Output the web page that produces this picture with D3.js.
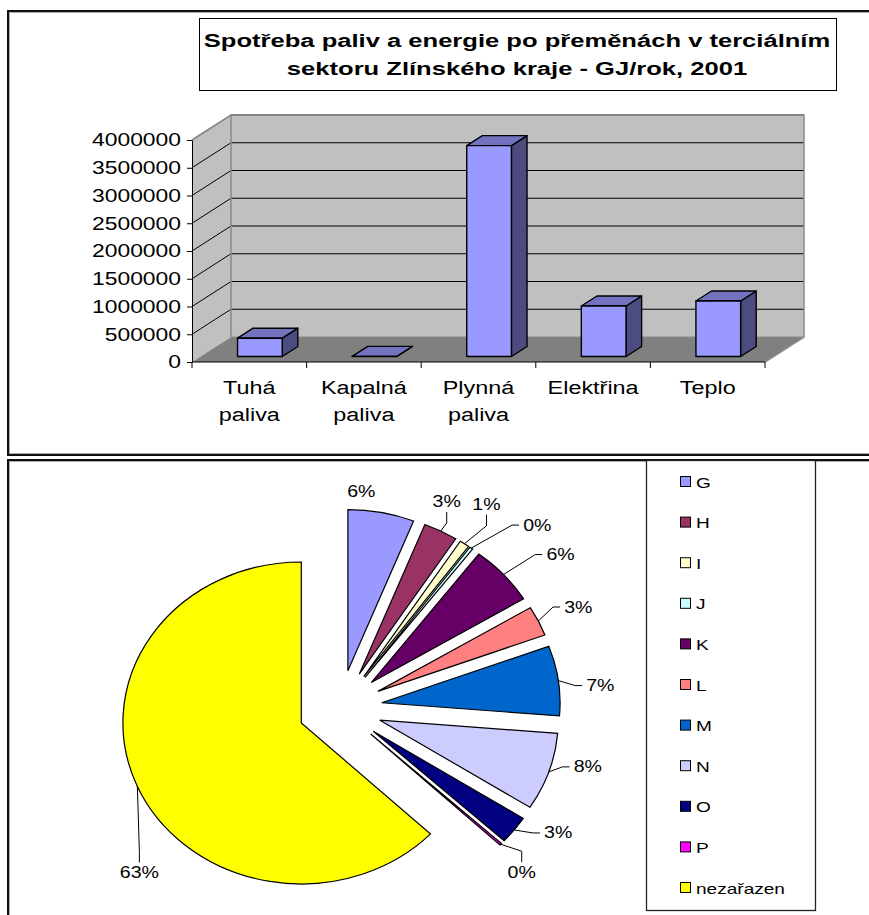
<!DOCTYPE html>
<html><head><meta charset="utf-8">
<script src="https://cdn.jsdelivr.net/npm/d3@7"></script>
<style>
html,body{margin:0;padding:0;background:#fff;}
svg{display:block;font-family:"Liberation Sans",Arial,sans-serif;}
</style></head><body>
<svg id="chart" width="869" height="915"></svg>
<script>
// Fuel and energy consumption in the tertiary sector, GJ per year (2001)
const titleLines = ["Spotřeba paliv a energie po přeměnách v terciálním", "sektoru Zlínského kraje - GJ/rok, 2001"];
const categories = ["Tuhá paliva", "Kapalná paliva", "Plynná paliva", "Elektřina", "Teplo"];
const consumption = [330000, 3000, 3800000, 910000, 1000000];
const valueTicks = [0, 500000, 1000000, 1500000, 2000000, 2500000, 3000000, 3500000, 4000000];

// Share of consumption by economic sector (%)
const sectors = ["G", "H", "I", "J", "K", "L", "M", "N", "O", "P", "nezařazen"];
const sectorShares = [6.0, 3.1, 0.9, 0.3, 6.0, 3.0, 7.0, 7.8, 2.8, 0.2, 62.9];
const sectorColors = ["#9999FF", "#993366", "#FFFFCC", "#CCFFFF", "#660066", "#FF8080",
                      "#0066CC", "#CCCCFF", "#000080", "#FF00FF", "#FFFF00"];

// label placement relative to each slice's rim point, and whether a leader line is drawn
const labelShift = [[-20,-21],[6,-29],[22,-39],[66,-23],[57,-20],[40,-14],[42,5],[39,-5],[44,3],[21,28],[2,86]];
const hasLeader = [false, true, true, true, true, true, true, true, true, true, true];

const WIDEN = 1.27;
const svg = d3.select("#chart");

function widen(sel, k) {
  sel.each(function () {
    const w = this.getComputedTextLength();
    d3.select(this).attr("textLength", w * k).attr("lengthAdjust", "spacingAndGlyphs");
  });
}

// ---- outer frames ----
function frame(x, y, w, h) {
  svg.append("rect").attr("x", x).attr("y", y).attr("width", w).attr("height", h)
    .attr("fill", "none").attr("stroke", "#111").attr("stroke-width", 2);
  svg.append("rect").attr("x", x + 1.5).attr("y", y + 1.5).attr("width", w - 3).attr("height", h - 3)
    .attr("fill", "none").attr("stroke", "#aaa").attr("stroke-width", 1);
}
frame(8, 11, 900, 444);
frame(8, 460, 900, 520);

// ---- title ----
svg.append("rect").attr("x", 199.5).attr("y", 18.5).attr("width", 637).attr("height", 72)
  .attr("fill", "#fff").attr("stroke", "#000").attr("stroke-width", 1);
svg.selectAll(".title").data(titleLines).join("text")
  .attr("class", "title")
  .attr("x", 517).attr("y", (d, i) => 41 + i * 28)
  .attr("text-anchor", "middle").attr("dominant-baseline", "central")
  .attr("font-size", 18).attr("font-weight", "bold").attr("fill", "#000")
  .text(d => d)
  .call(widen, 1.42);

// ---- 3D column chart ----
const X0 = 192, X1 = 765, DX = 39, DY = -25;
const y = d3.scaleLinear().domain([0, 4000000]).range([362, 140]);
const x = d3.scaleBand().domain(categories).range([X0, X1]).padding(0);
const yTop = y(4000000), yZero = y(0);

const bar3d = svg.append("g");
const pts = a => a.map(p => p.join(",")).join(" ");

// back wall
bar3d.append("polygon")
  .attr("points", pts([[X0 + DX, yZero + DY], [X1 + DX, yZero + DY], [X1 + DX, yTop + DY], [X0 + DX, yTop + DY]]))
  .attr("fill", "#C0C0C0");
// side wall
bar3d.append("polygon")
  .attr("points", pts([[X0, yZero], [X0 + DX, yZero + DY], [X0 + DX, yTop + DY], [X0, yTop]]))
  .attr("fill", "#C0C0C0");
// floor
bar3d.append("polygon")
  .attr("points", pts([[X0, yZero], [X1, yZero], [X1 + DX, yZero + DY], [X0 + DX, yZero + DY]]))
  .attr("fill", "#808080");

// gridlines on back and side walls
const grid = valueTicks.filter(t => t > 0);
bar3d.selectAll(".gback").data(grid).join("line")
  .attr("x1", X0 + DX).attr("x2", X1 + DX)
  .attr("y1", d => y(d) + DY).attr("y2", d => y(d) + DY)
  .attr("stroke", "#000").attr("stroke-width", 1);
bar3d.selectAll(".gside").data(grid).join("line")
  .attr("x1", X0).attr("x2", X0 + DX)
  .attr("y1", d => y(d)).attr("y2", d => y(d) + DY)
  .attr("stroke", "#000").attr("stroke-width", 1);

// wall outlines
bar3d.append("polyline")
  .attr("points", pts([[X0, yTop], [X0 + DX, yTop + DY], [X1 + DX, yTop + DY], [X1 + DX, yZero + DY], [X1, yZero]]))
  .attr("fill", "none").attr("stroke", "#8a8a8a").attr("stroke-width", 1.5);
bar3d.append("line")
  .attr("x1", X0 + DX).attr("x2", X0 + DX).attr("y1", yTop + DY).attr("y2", yZero + DY)
  .attr("stroke", "#8a8a8a").attr("stroke-width", 1.5);
bar3d.append("line")
  .attr("x1", X0 + DX).attr("x2", X1 + DX).attr("y1", yZero + DY).attr("y2", yZero + DY)
  .attr("stroke", "#8a8a8a").attr("stroke-width", 1);

// columns
const F1 = 0.22, F2 = 0.62, BW = x.bandwidth() * 0.39;
const cols = bar3d.selectAll(".col").data(categories.map((c, i) => ({ c, v: consumption[i] }))).join("g");
cols.each(function (d) {
  const g = d3.select(this);
  const cx = x(d.c) + x.bandwidth() / 2 + 2;
  const l = cx - BW / 2 + DX * F1, r = cx + BW / 2 + DX * F1;
  const b = yZero + DY * F1, t = y(d.v) + DY * F1;
  const ddx = DX * (F2 - F1), ddy = DY * (F2 - F1);
  const st = { stroke: "#000", "stroke-width": 1.4, "stroke-linejoin": "round" };
  const poly = (p, fill) => {
    const e = g.append("polygon").attr("points", pts(p)).attr("fill", fill);
    Object.entries(st).forEach(([k, v]) => e.attr(k, v));
  };
  poly([[r, b], [r + ddx, b + ddy], [r + ddx, t + ddy], [r, t]], "#4C4C80");
  poly([[l, t], [r, t], [r + ddx, t + ddy], [l + ddx, t + ddy]], "#7373BF");
  poly([[l, b], [r, b], [r, t], [l, t]], "#9999FF");
});

// value axis
const yAxis = svg.append("g").attr("transform", `translate(${X0},0)`)
  .call(d3.axisLeft(y).tickValues(valueTicks).tickFormat(d3.format("d")).tickSize(5).tickPadding(6).tickSizeOuter(0));
yAxis.select(".domain").attr("stroke", "#000");
yAxis.selectAll("line").attr("stroke", "#000");
yAxis.selectAll("text").attr("font-size", 18).attr("fill", "#000")
  .attr("font-family", "Liberation Sans, Arial, sans-serif").call(widen, WIDEN);

// category axis
svg.append("line").attr("x1", X0).attr("x2", X1).attr("y1", yZero).attr("y2", yZero)
  .attr("stroke", "#000").attr("stroke-width", 1);
svg.selectAll(".ctick").data(d3.range(categories.length + 1)).join("line")
  .attr("x1", i => X0 + i * x.bandwidth()).attr("x2", i => X0 + i * x.bandwidth())
  .attr("y1", yZero).attr("y2", yZero + 6).attr("stroke", "#000");
const catLabels = svg.selectAll(".clab").data(categories).join("text")
  .attr("text-anchor", "middle").attr("font-size", 18).attr("fill", "#000");
catLabels.each(function (d) {
  const t = d3.select(this);
  d.split(" ").forEach((w, i) => {
    t.append("tspan").attr("x", x(d) + x.bandwidth() / 2).attr("y", 394 + i * 27).text(w);
  });
});
catLabels.selectAll("tspan").call(widen, 1.3);

// ---- exploded pie ----
const C = [340, 708], R = 161, SX = 1.108, EXPLODE = 38;
const total = d3.sum(sectorShares);
const arcs = d3.pie().sort(null)(sectorShares);
const arc = d3.arc().innerRadius(0).outerRadius(R);
const pieG = svg.append("g").attr("transform", `translate(${C[0]},${C[1]}) scale(${SX},1)`);
arcs.forEach((a, i) => {
  const mid = (a.startAngle + a.endAngle) / 2;
  pieG.append("path")
    .attr("d", arc(a))
    .attr("transform", `translate(${Math.sin(mid) * EXPLODE},${-Math.cos(mid) * EXPLODE})`)
    .attr("fill", sectorColors[i]).attr("stroke", "#000").attr("stroke-width", 1.2)
    .attr("vector-effect", "non-scaling-stroke");
});

const pct = d3.format(".0%");
arcs.forEach((a, i) => {
  const mid = (a.startAngle + a.endAngle) / 2;
  const px = C[0] + SX * (EXPLODE + R) * Math.sin(mid);
  const py = C[1] - (EXPLODE + R) * Math.cos(mid);
  const lx = px + labelShift[i][0], ly = py + labelShift[i][1];
  const txt = svg.append("text").attr("x", lx).attr("y", ly)
    .attr("text-anchor", "middle").attr("dominant-baseline", "central")
    .attr("font-size", 17).attr("fill", "#000")
    .text(pct(sectorShares[i] / total)).call(widen, 1.15);
  if (!hasLeader[i]) return;
  const w = txt.node().getComputedTextLength() * 1.15 / 2 + 2;
  const sx = labelShift[i][0], sy = labelShift[i][1];
  let end, elbow;
  if (Math.abs(sy) > Math.abs(sx)) {
    const s = sy < 0 ? 1 : -1;
    end = [lx, ly + s * 10];
    elbow = [lx, ly + s * 21];
  } else {
    const s = sx > 0 ? -1 : 1;
    end = [lx + s * w, ly];
    elbow = [lx + s * (w + 7), ly];
  }
  svg.append("polyline").attr("points", pts([[px, py], elbow, end]))
    .attr("fill", "none").attr("stroke", "#000").attr("stroke-width", 1);
});

// ---- legend ----
svg.append("rect").attr("x", 646.5).attr("y", 460.5).attr("width", 169).attr("height", 450)
  .attr("fill", "#fff").attr("stroke", "#222").attr("stroke-width", 1.3);
const leg = svg.selectAll(".leg").data(sectors).join("g")
  .attr("transform", (d, i) => `translate(680,${482 + i * 40.6})`);
leg.append("rect").attr("x", 0.5).attr("y", -5.5).attr("width", 10).attr("height", 10)
  .attr("fill", (d, i) => sectorColors[i]).attr("stroke", "#000").attr("stroke-width", 1);
leg.append("text").attr("x", 16).attr("y", 0).attr("dominant-baseline", "central")
  .attr("font-size", 15).attr("fill", "#000").text(d => d).call(widen, WIDEN);
</script>
</body></html>
